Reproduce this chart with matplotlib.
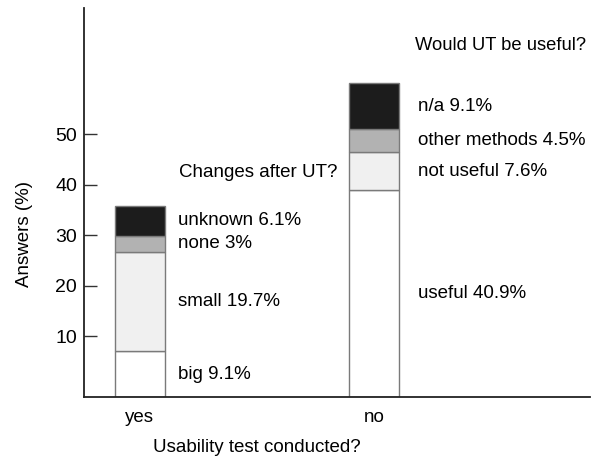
import matplotlib
matplotlib.use("Agg")
import matplotlib.pyplot as plt
import numpy as np

plt.rcParams['font.family'] = ['Liberation Sans', 'DejaVu Sans']

# ---- data ----
groups = ["yes", "no"]
yes_labels = ["big", "small", "none", "unknown"]
yes_values = [9.1, 19.7, 3.0, 6.1]
no_labels = ["useful", "not useful", "other methods", "n/a"]
no_values = [40.9, 7.6, 4.5, 9.1]
tick_values = [10, 20, 30, 40, 50]
tick_offset = 2.0  # tick labels in the original sit slightly above their values
yes_title = "Changes after UT?"
no_title = "Would UT be useful?"

seg_colors = ["#ffffff", "#f0f0f0", "#b2b2b2", "#1c1c1c"]
edge = "#7a7a7a"

fig = plt.figure(figsize=(6.0, 4.68), dpi=100)
ax = fig.add_axes([84/600, 71/468, 506/600, 389/468])

width = 0.214
fs = 13.5

def stack(xpos, values, labels, label_x):
    bottom = 0.0
    for v, lab, c in zip(values, labels, seg_colors):
        ax.bar(xpos, v, width=width, bottom=bottom, color=c, edgecolor=edge, linewidth=1.0)
        ax.text(label_x, bottom + v / 2, f"{lab} {v:g}%", ha="left", va="center", fontsize=fs)
        bottom += v
    return bottom

stack(0, yes_values, yes_labels, 0.162)
stack(1, no_values, no_labels, 1.188)

ax.text(0.166, 44.4, yes_title, ha="left", va="center", fontsize=fs)
ax.text(1.174, 69.5, no_title, ha="left", va="center", fontsize=13.2)

ax.set_xlim(-0.239, 1.923)
ax.set_ylim(0, 77)

ax.set_xticks([0, 1])
ax.set_xticklabels(groups, fontsize=fs)
ax.tick_params(axis="x", length=0, pad=9)

ax.set_yticks([t + tick_offset for t in tick_values])
ax.set_yticklabels([str(t) for t in tick_values], fontsize=14)
ax.tick_params(axis="y", direction="in", length=9.5, width=1, color="#333333", pad=5)

for s in ["top", "right"]:
    ax.spines[s].set_visible(False)
for s in ["left", "bottom"]:
    ax.spines[s].set_linewidth(1.3)
    ax.spines[s].set_color("#222222")

ax.set_ylabel("Answers (%)", fontsize=fs)
ax.yaxis.set_label_coords(-0.10, 0.42)

fig.text(257/600, 1 - 448/468, "Usability test conducted?", ha="center", va="center", fontsize=fs)

fig.savefig("out.png", dpi=100, facecolor="white")
